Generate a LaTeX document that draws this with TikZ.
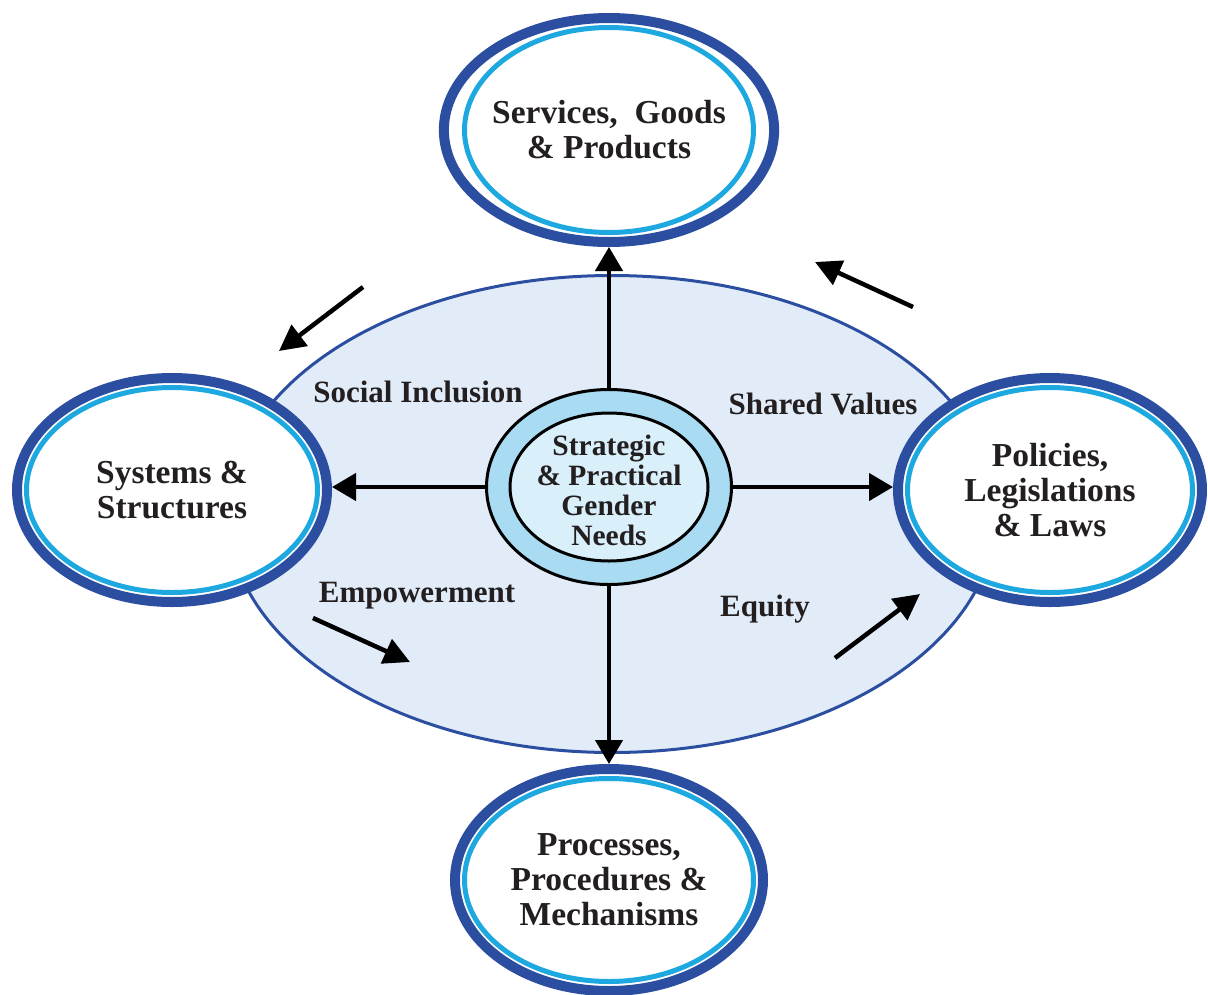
\documentclass[tikz,border=0pt]{standalone}
\usepackage{fontspec}
\setmainfont{Liberation Serif}
\usetikzlibrary{arrows.meta,shapes.geometric}
\definecolor{ringblue}{HTML}{2B4EA0}
\definecolor{ringcyan}{HTML}{1DA8E0}
\definecolor{bigfill}{HTML}{E2ECF8}
\definecolor{corefill}{HTML}{A9DCF2}
\definecolor{coreinner}{HTML}{D9EFFA}
\definecolor{txt}{HTML}{231F20}
\begin{document}
\begin{tikzpicture}[x=1pt,y=-1pt,
  ringnode/.style={ellipse, draw=ringblue, line width=10pt, fill=white,
    inner sep=0pt, outer sep=5pt, align=center, text=txt,
    font=\fontsize{33.5}{35}\selectfont\bfseries},
  cyanring/.style={draw=ringcyan, line width=5pt},
  bigell/.style={ellipse, draw=ringblue, line width=3pt, fill=bigfill,
    inner sep=0pt, outer sep=1.5pt},
  corenode/.style={ellipse, draw=black, line width=3pt, fill=corefill,
    inner sep=0pt, outer sep=1.5pt},
  coreinnerring/.style={draw=black, line width=3pt, fill=coreinner},
  coretext/.style={align=center, text=txt, inner sep=0pt,
    font=\fontsize{29.5}{30}\selectfont\bfseries},
  lbl/.style={text=txt, inner sep=0pt, font=\fontsize{31}{33}\selectfont\bfseries},
  conn/.style={draw=black, line width=4.5pt, -{Triangle[length=24pt,width=27pt]}},
  diag/.style={draw=black, line width=4.5pt, -{Triangle[length=26pt,width=26pt]}}
]
\fill[white] (0,0) rectangle (1208,994);
\useasboundingbox (0,0) rectangle (1208,994);

% central field
\node[bigell, minimum width=768pt, minimum height=477pt] (field) at (612,514) {};

% core
\node[corenode, minimum width=245pt, minimum height=195pt] (core) at (609,487) {};
\draw[coreinnerring] (core.center) ellipse [x radius=99pt, y radius=74pt];
\node[coretext] (coretxt) at (609,490) {Strategic\\\& Practical\\Gender\\Needs};

% outer rings
\node[ringnode, minimum width=308pt, minimum height=224pt] (top) at (609,130)
  {Services,~ Goods\\\& Products};
\draw[cyanring] (top.center) ellipse [x radius=144.5pt, y radius=102.5pt];

\node[ringnode, minimum width=310pt, minimum height=224pt] (left) at (172,490)
  {Systems \&\\Structures};
\draw[cyanring] (left.center) ellipse [x radius=145.5pt, y radius=102.5pt];

\node[ringnode, minimum width=304pt, minimum height=224pt] (right) at (1050,490)
  {Policies,\\Legislations\\\& Laws};
\draw[cyanring] (right.center) ellipse [x radius=142.5pt, y radius=102.5pt];

\node[ringnode, minimum width=308pt, minimum height=222pt] (bottom) at (609,880)
  {Processes,\\Procedures \&\\Mechanisms};
\draw[cyanring] (bottom.center) ellipse [x radius=144.5pt, y radius=101.5pt];

% connectors from core
\draw[conn] (core.north) -- (top.south);
\draw[conn] (core.south) -- (bottom.north);
\draw[conn] (core.west) -- (core.west -| left.east);
\draw[conn] (core.east) -- (core.east -| right.west);

% labels
\node[lbl, anchor=base] (si) at (418,402) {Social Inclusion};
\node[lbl, anchor=base] (sv) at (823,414) {Shared Values};
\node[lbl, anchor=base] (em) at (417,602) {Empowerment};
\node[lbl, anchor=base] (eq) at (765,616) {Equity};

% circulating arrows
\coordinate (tlA) at (363,287); \coordinate (tlB) at (279,351);
\coordinate (trA) at (913,307); \coordinate (trB) at (815,262);
\coordinate (blA) at (313,618); \coordinate (blB) at (410,662);
\coordinate (brA) at (835,658); \coordinate (brB) at (920,594);
\draw[diag] (tlA) -- (tlB);
\draw[diag] (trA) -- (trB);
\draw[diag] (blA) -- (blB);
\draw[diag] (brA) -- (brB);
\end{tikzpicture}
\end{document}
